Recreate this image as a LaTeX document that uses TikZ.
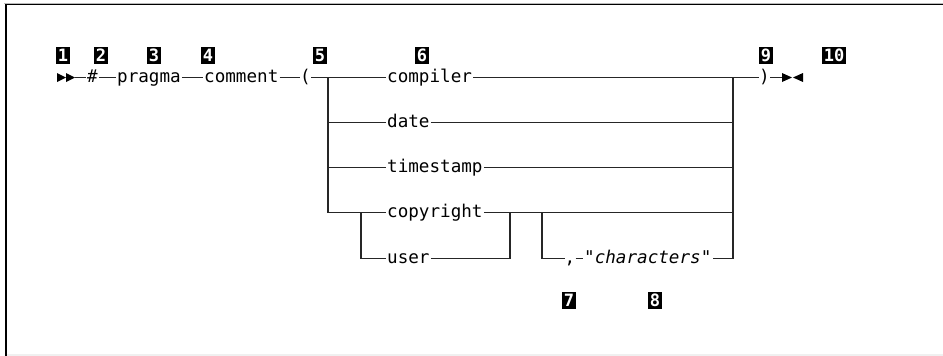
\documentclass[tikz,border=0pt]{standalone}
\usepackage{fontspec}
\setmonofont{DejaVu Sans Mono}

% rail rows of the syntax diagram (top to bottom)
\def\rowA{77.5}
\def\rowB{122.5}
\def\rowC{167.5}
\def\rowD{212.5}
\def\rowE{258.5}

\begin{document}
\begin{tikzpicture}[x=1pt,y=-1pt,
  every node/.style={font=\fontsize{17.6}{20}\ttfamily, inner sep=0pt},
  kw/.style={anchor=west, text height=9.4pt, text depth=0pt, inner xsep=1pt},
  sym/.style={text height=9.4pt, text depth=0pt, inner xsep=0pt, minimum width=10.6pt},
  marker/.style={fill=black, text=white, font=\fontsize{17}{18}\ttfamily\bfseries,
                 inner xsep=1.4pt, inner ysep=2pt, text height=13pt, text depth=0pt},
  rail/.style={draw=black!85, line width=1.1pt},
  tip/.style={fill=black}]

\useasboundingbox (0,0) rectangle (943,356);

% frame
\fill[gray!12] (6,353.5) rectangle (943,356);
\draw[gray!55, line width=0.8pt] (4,3) -- (943,3);
\draw[black, line width=1.5pt] (6,4.7) -- (943,4.7);
\draw[black, line width=1.5pt] (6,4) -- (6,356);

% keywords and symbols
\node[kw]  (hash)      at (86,\rowA)    {\#};
\node[kw]  (pragma)    at (116,\rowA)   {pragma};
\node[kw]  (comment)   at (203,\rowA)   {comment};
\node[sym] (lpar)      at (305.5,\rowA) {(};
\node[kw]  (compiler)  at (386,\rowA)   {compiler};
\node[kw]  (date)      at (386,\rowB)   {date};
\node[kw]  (timestamp) at (386,\rowC)   {timestamp};
\node[kw]  (copyright) at (386,\rowD)   {copyright};
\node[kw]  (user)      at (386,\rowE)   {user};
\node[sym] (comma)     at (570,\rowE)   {,};
\node[kw]  (chars)     at (583,\rowE)   {"\textit{characters}"};
\node[sym] (rpar)      at (764.5,\rowA) {)};

% junctions
\coordinate (begin)  at (75,\rowA);
\coordinate (finish) at (782,\rowA);
\coordinate (jL0) at (328,\rowA);
\coordinate (jL1) at (328,\rowB);
\coordinate (jL2) at (328,\rowC);
\coordinate (jL3) at (328,\rowD);
\coordinate (jU3) at (361,\rowD);
\coordinate (jU4) at (361,\rowE);
\coordinate (jV3) at (510,\rowD);
\coordinate (jV4) at (510,\rowE);
\coordinate (jS3) at (542,\rowD);
\coordinate (jS4) at (542,\rowE);
\coordinate (jR0) at (733,\rowA);
\coordinate (jR1) at (733,\rowB);
\coordinate (jR2) at (733,\rowC);
\coordinate (jR3) at (733,\rowD);
\coordinate (jR4) at (733,\rowE);

% start and end marks
\fill[tip] (57,73) -- (66,77.5) -- (57,82) -- cycle;
\fill[tip] (66,73) -- (75,77.5) -- (66,82) -- cycle;
\fill[tip] (782,73) -- (792,77.5) -- (782,82) -- cycle;
\fill[tip] (803,73) -- (793,77.5) -- (803,82) -- cycle;

% main line
\draw[rail] (begin) -- (hash.west);
\draw[rail] (hash.east) -- (pragma.west);
\draw[rail] (pragma.east) -- (comment.west);
\draw[rail] (comment.east) -- (lpar.west);
\draw[rail] (lpar.east) -- (compiler.west);
\draw[rail] (compiler.east) -- (rpar.west);
\draw[rail] (rpar.east) -- (finish);

% choices
\draw[rail] (jL0) -- (jL3) -- (copyright.west);
\draw[rail] (jL1) -- (date.west);
\draw[rail] (jL2) -- (timestamp.west);
\draw[rail] (date.east) -- (jR1);
\draw[rail] (timestamp.east) -- (jR2);
\draw[rail] (copyright.east) -- (jR3);
\draw[rail] (jR0) -- (jR4) -- (chars.east);

% copyright / user
\draw[rail] (jU3) -- (jU4) -- (user.west);
\draw[rail] (user.east) -- (jV4) -- (jV3);

% optional string
\draw[rail] (jS3) -- (jS4) -- (comma.west);
\draw[rail] (comma.east) -- (chars.west);

% reference markers
\node[marker] (m1)  at (63,55)  {1};
\node[marker] (m2)  at (101,55) {2};
\node[marker] (m3)  at (154,55) {3};
\node[marker] (m4)  at (208,55) {4};
\node[marker] (m5)  at (320,55) {5};
\node[marker] (m6)  at (422,55) {6};
\node[marker] (m9)  at (766,55) {9};
\node[marker] (m10) at (834,55) {10};
\node[marker] (m7)  at (569,300) {7};
\node[marker] (m8)  at (655,300) {8};
\end{tikzpicture}
\end{document}
